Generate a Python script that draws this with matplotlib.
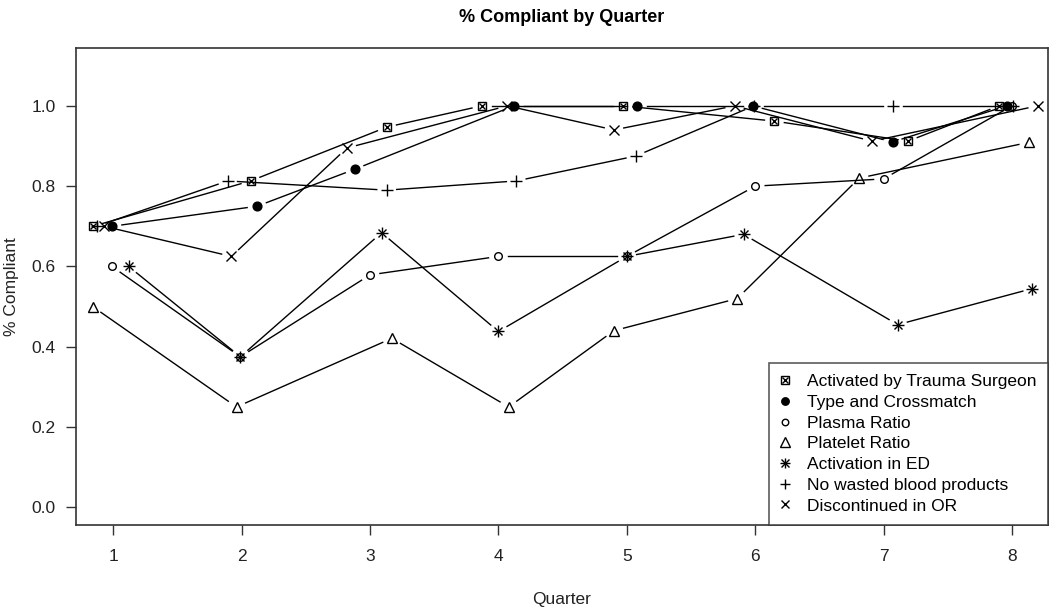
import matplotlib
matplotlib.use("Agg")
import matplotlib.pyplot as plt
import numpy as np

plt.rcParams['font.family'] = ['Liberation Sans', 'DejaVu Sans']

# dados (x com pequeno deslocamento como no original)
series_names = ['Activated by Trauma Surgeon', 'Type and Crossmatch', 'Plasma Ratio',
                'Platelet Ratio', 'Activation in ED', 'No wasted blood products',
                'Discontinued in OR']

x_surgeon = [0.84, 2.07, 3.13, 3.87, 4.97, 6.15, 7.19, 7.90]
y_surgeon = [0.70, 0.813, 0.947, 1.0, 1.0, 0.962, 0.912, 1.0]

x_crossmatch = [0.99, 2.12, 2.88, 4.12, 5.08, 5.98, 7.07, 7.96]
y_crossmatch = [0.70, 0.75, 0.842, 1.0, 1.0, 1.0, 0.91, 1.0]

x_plasma = [0.99, 1.99, 3.00, 4.00, 5.00, 6.00, 7.00, 8.00]
y_plasma = [0.60, 0.375, 0.579, 0.625, 0.625, 0.80, 0.818, 1.0]

x_platelet = [0.84, 1.96, 3.17, 4.08, 4.90, 5.86, 6.81, 8.13]
y_platelet = [0.50, 0.25, 0.421, 0.25, 0.44, 0.52, 0.82, 0.909]

x_ed = [1.12, 1.99, 3.09, 4.00, 5.00, 5.91, 7.11, 8.16]
y_ed = [0.60, 0.375, 0.684, 0.438, 0.625, 0.68, 0.455, 0.545]

x_wasted = [0.87, 1.89, 3.13, 4.14, 5.07, 5.99, 7.07, 8.01]
y_wasted = [0.70, 0.813, 0.79, 0.813, 0.875, 1.0, 1.0, 1.0]

x_or = [0.93, 1.92, 2.82, 4.07, 4.90, 5.84, 6.91, 8.20]
y_or = [0.70, 0.625, 0.895, 1.0, 0.94, 1.0, 0.912, 1.0]

quarters = [1, 2, 3, 4, 5, 6, 7, 8]
y_ticks = [0.0, 0.2, 0.4, 0.6, 0.8, 1.0]

fig = plt.figure(figsize=(10.5, 6.08), dpi=100)
ax = fig.add_axes([0.0724, 0.1365, 0.9256, 0.7845])
ax.set_xlim(0.71, 8.28)
ax.set_ylim(-0.044, 1.144)

todas = [
    (x_surgeon, y_surgeon, 'box'),
    (x_crossmatch, y_crossmatch, 'o_fill'),
    (x_plasma, y_plasma, 'o_open'),
    (x_platelet, y_platelet, '^'),
    (x_ed, y_ed, 'ast'),
    (x_wasted, y_wasted, '+'),
    (x_or, y_or, 'x'),
]

def desenhar_marcador(ax, xs, ys, tipo, ms_scale=1.0):
    """Desenha os simbolos no estilo R (pch)"""
    kw = dict(linestyle='none', color='black', markeredgewidth=1.0, zorder=3)
    if tipo == 'box':
        h1, = ax.plot(xs, ys, marker='s', ms=6.3 * ms_scale, mfc='none', **kw)
        h2, = ax.plot(xs, ys, marker='x', ms=5.0 * ms_scale, **kw)
        return (h1, h2)
    if tipo == 'o_fill':
        h, = ax.plot(xs, ys, marker='o', ms=6.3 * ms_scale, mfc='black', **kw)
        return h
    if tipo == 'o_open':
        h, = ax.plot(xs, ys, marker='o', ms=5.5 * ms_scale, mfc='none', **kw)
        return h
    if tipo == '^':
        h, = ax.plot(xs, ys, marker='^', ms=7.8 * ms_scale, mfc='none', **kw)
        return h
    if tipo == 'ast':
        # asterisco = "+" e "x" sobrepostos
        h1, = ax.plot(xs, ys, marker='+', ms=8.5 * ms_scale, **kw)
        h2, = ax.plot(xs, ys, marker='x', ms=6.0 * ms_scale, **kw)
        return (h1, h2)
    if tipo == '+':
        h, = ax.plot(xs, ys, marker='+', ms=8.5 * ms_scale, **kw)
        return h
    h, = ax.plot(xs, ys, marker='x', ms=6.5 * ms_scale, **kw)
    return h

# linhas com espaco ao redor dos pontos (como type = "b" do R)
gap = 10  # pixels
inv = ax.transData.inverted()
handles = []
for xs, ys, tipo in todas:
    pts = ax.transData.transform(np.column_stack([xs, ys]))
    for i in range(len(pts) - 1):
        p1, p2 = pts[i], pts[i + 1]
        d = p2 - p1
        dist = np.hypot(d[0], d[1])
        if dist <= 2 * gap:
            continue
        u = d / dist
        seg = inv.transform(np.array([p1 + u * gap, p2 - u * gap]))
        ax.plot(seg[:, 0], seg[:, 1], color='black', lw=1.0, zorder=2)
    handles.append(desenhar_marcador(ax, xs, ys, tipo))

ax.set_xticks(quarters)
ax.set_yticks(y_ticks)
ax.set_yticklabels([f'{v:.1f}' for v in y_ticks])
ax.tick_params(axis='both', direction='out', length=7.5, width=1.0, labelsize=12.5,
               color='#333333', labelcolor='#222222')
ax.tick_params(axis='x', pad=10)
ax.tick_params(axis='y', pad=7)
for s in ax.spines.values():
    s.set_linewidth(1.2)
    s.set_color('#333333')

ax.set_title('% Compliant by Quarter', fontsize=13, fontweight='bold', pad=19)
ax.set_xlabel('Quarter', fontsize=12.5, labelpad=20, color='#222222')
ax.set_ylabel('% Compliant', fontsize=12.5, labelpad=9, color='#222222')

leg_handles = []
for xs, ys, tipo in todas:
    leg_handles.append(desenhar_marcador(ax, [], [], tipo, ms_scale=0.85))

leg = ax.legend(leg_handles, series_names, loc='lower right', fontsize=12.5,
                frameon=True, fancybox=False, borderaxespad=0, borderpad=0.66,
                labelspacing=0.32, handlelength=0.55, handletextpad=1.0)
leg.get_frame().set_edgecolor('#333333')
leg.get_frame().set_linewidth(1.2)

fig.savefig('out.png', dpi=100)
